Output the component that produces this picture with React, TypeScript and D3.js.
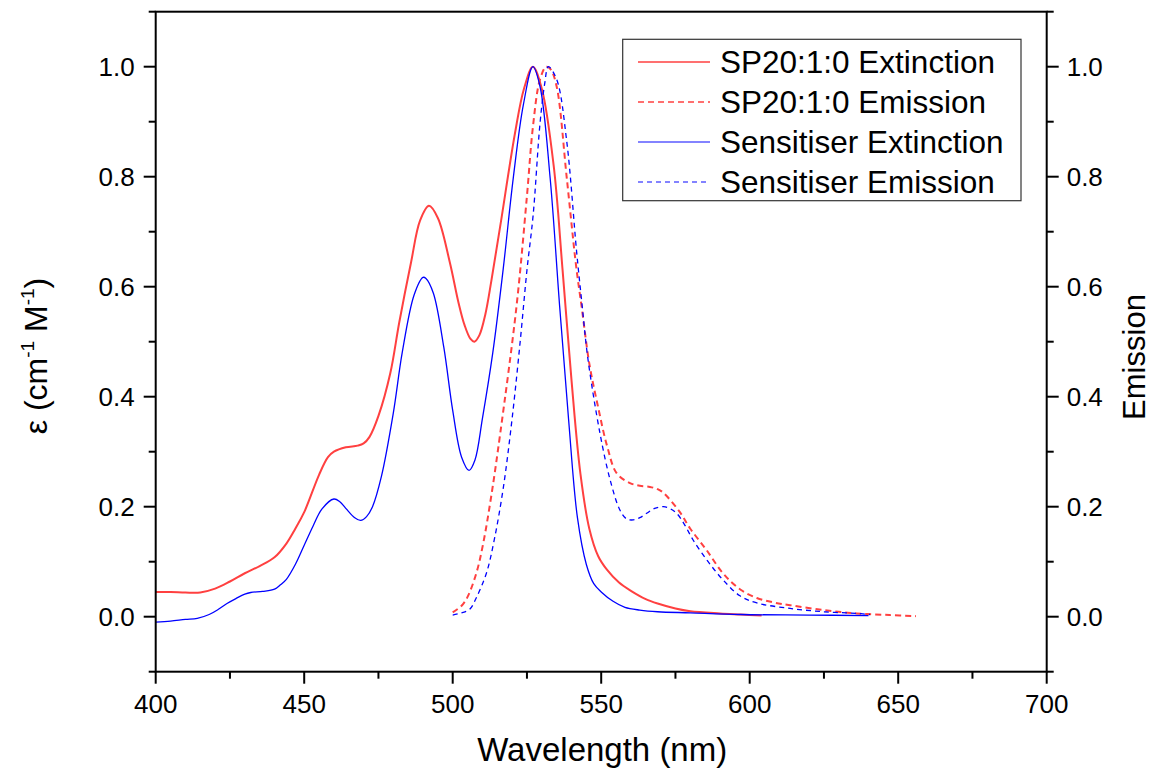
import React from "react";
import * as d3 from "d3";

type Pt = [number, number];

const spExtinction: Pt[] = [[400,0.045],[405,0.045],[410,0.044],[415,0.044],[420,0.051],[425,0.064],[430,0.079],[435,0.092],[440,0.108],[444,0.133],[447,0.16],[450,0.19],[455,0.258],[458,0.29],[460,0.300],[464,0.308],[468,0.311],[470,0.315],[472,0.327],[475,0.365],[479,0.443],[482,0.535],[486,0.645],[489,0.72],[492,0.747],[495,0.725],[499,0.645],[502,0.57],[504,0.53],[506,0.505],[507.3,0.50],[509,0.512],[511,0.55],[513,0.61],[516,0.71],[521,0.88],[524,0.96],[527,1.0],[530,0.96],[534,0.82],[537,0.63],[540,0.43],[543,0.26],[546,0.16],[549,0.11],[552,0.085],[556,0.062],[560,0.047],[565,0.032],[569,0.024],[575,0.015],[580,0.01],[590,0.006],[597,0.004],[604,0.002]];

const spEmission: Pt[] = [[500,0.008],[503,0.02],[505,0.036],[508,0.08],[510.3,0.134],[513,0.22],[516,0.333],[521.5,0.565],[525,0.765],[527,0.89],[529.4,0.977],[531.5,1.0],[533,0.995],[535,0.964],[538.4,0.798],[541.5,0.64],[543.5,0.56],[546,0.46],[549,0.38],[552,0.31],[555.2,0.261],[559.7,0.243],[563,0.238],[566.4,0.236],[569,0.232],[571,0.225],[576.5,0.19],[580,0.16],[585.5,0.121],[591,0.079],[596.7,0.05],[602.4,0.034],[608,0.026],[613.6,0.021],[625,0.012],[636,0.006],[647,0.003],[656,0.001]];

const sensExtinction: Pt[] = [[400,-0.01],[405,-0.008],[410,-0.005],[414,-0.003],[418,0.004],[421,0.013],[424,0.024],[427,0.033],[430,0.041],[432,0.044],[436,0.046],[440,0.05],[442,0.058],[444,0.068],[447,0.095],[450,0.13],[453,0.165],[456,0.196],[460,0.214],[462,0.209],[464,0.197],[467,0.18],[469,0.175],[471,0.182],[473,0.2],[476,0.255],[480,0.37],[483,0.48],[487,0.585],[490,0.617],[491,0.615],[493.5,0.588],[497,0.49],[500,0.375],[503,0.29],[505.5,0.266],[507.5,0.285],[510,0.36],[513.5,0.48],[517,0.632],[520.4,0.798],[523.8,0.931],[527,1.0],[529.4,0.964],[532.8,0.798],[536,0.565],[539,0.36],[542,0.18],[545,0.095],[547.5,0.06],[550,0.045],[554,0.028],[558,0.017],[563,0.012],[569,0.009],[580,0.007],[597,0.004],[620,0.003],[640,0.002]];

const sensEmission: Pt[] = [[500,0.003],[503,0.007],[505.8,0.014],[508,0.035],[511.4,0.08],[514,0.14],[517,0.233],[520,0.36],[522.7,0.499],[525,0.63],[527.1,0.731],[529.4,0.897],[531,0.97],[532.2,1.0],[535,0.977],[538.4,0.864],[541.7,0.665],[543.5,0.57],[545.5,0.47],[549.6,0.333],[553,0.249],[556.3,0.194],[558.5,0.178],[560.8,0.176],[563,0.18],[565.3,0.188],[568,0.197],[570.9,0.200],[573,0.197],[575.4,0.188],[578,0.168],[581,0.139],[586,0.1],[591,0.067],[596.7,0.038],[602.4,0.025],[613.6,0.015],[625,0.009],[636,0.006],[640.5,0.004]];

const xMajorTicks = [400, 450, 500, 550, 600, 650, 700];
const xMinorTicks = [425, 475, 525, 575, 625, 675];
const yMajorTicks = [0, 0.2, 0.4, 0.6, 0.8, 1.0];
const yMinorTicks = [-0.1, 0.1, 0.3, 0.5, 0.7, 0.9, 1.1];

const legendLabels = ["SP20:1:0 Extinction", "SP20:1:0 Emission", "Sensitiser Extinction", "Sensitiser Emission"];

const RED = "#ff4040";
const BLUE = "#0000ff";

const series = [
  { data: spExtinction, color: RED, width: 2, dash: "" },
  { data: spEmission, color: RED, width: 2, dash: "6,4" },
  { data: sensExtinction, color: BLUE, width: 1.3, dash: "" },
  { data: sensEmission, color: BLUE, width: 1.3, dash: "5,4" },
];

export default function App() {
  const W = 1153, H = 774;
  const L = 155.7, R = 1046.7, T = 11.7, B = 671.7;
  const x = d3.scaleLinear().domain([400, 700]).range([L, R]);
  const y = d3.scaleLinear().domain([-0.1, 1.1]).range([B, T]);
  const line = d3.line<Pt>().x(d => x(d[0])).y(d => y(d[1])).curve(d3.curveCatmullRom.alpha(0.5));
  const font = "Arial, 'Liberation Sans', sans-serif";
  const MAJ = 12, MIN = 7;

  return (
    <svg width={W} height={H} style={{ position: "absolute", left: 0, top: 0, background: "#fff" }} fontFamily={font}>
      <rect x={0} y={0} width={W} height={H} fill="#fff" />
      <defs>
        <clipPath id="plotclip"><rect x={L} y={T} width={R - L} height={B - T} /></clipPath>
      </defs>
      <g clipPath="url(#plotclip)">
        {series.map((s, i) => (
          <path key={i} d={line(s.data) || ""} fill="none" stroke={s.color} strokeWidth={s.width} strokeDasharray={s.dash || undefined} />
        ))}
      </g>
      <rect x={L} y={T} width={R - L} height={B - T} fill="none" stroke="#000" strokeWidth={2} />
      {xMajorTicks.map(t => (
        <g key={"xm" + t}>
          <line x1={x(t)} x2={x(t)} y1={B} y2={B + MAJ} stroke="#000" strokeWidth={2} />
          <text x={x(t)} y={713} fontSize={26} textAnchor="middle">{t}</text>
        </g>
      ))}
      {xMinorTicks.map(t => (
        <line key={"xn" + t} x1={x(t)} x2={x(t)} y1={B} y2={B + MIN} stroke="#000" strokeWidth={2} />
      ))}
      {yMajorTicks.map(t => (
        <g key={"ym" + t}>
          <line x1={L - MAJ} x2={L} y1={y(t)} y2={y(t)} stroke="#000" strokeWidth={2} />
          <text x={L - MAJ - 9} y={y(t)} dy="0.36em" fontSize={26} textAnchor="end">{t.toFixed(1)}</text>
          <line x1={R} x2={R + MAJ} y1={y(t)} y2={y(t)} stroke="#000" strokeWidth={2} />
          <text x={R + MAJ + 8} y={y(t)} dy="0.36em" fontSize={26} textAnchor="start">{t.toFixed(1)}</text>
        </g>
      ))}
      {yMinorTicks.map(t => (
        <g key={"yn" + t}>
          <line x1={L - MIN} x2={L} y1={y(t)} y2={y(t)} stroke="#000" strokeWidth={2} />
          <line x1={R} x2={R + MIN} y1={y(t)} y2={y(t)} stroke="#000" strokeWidth={2} />
        </g>
      ))}
      <text x={(L + R) / 2 + 1} y={761} fontSize={33} textAnchor="middle">Wavelength (nm)</text>
      <text transform={`translate(47, 356) rotate(-90)`} fontSize={32} textAnchor="middle">
        ε (cm<tspan fontSize={19} dy={-13}>-1</tspan><tspan dy={13}> M</tspan><tspan fontSize={19} dy={-13}>-1</tspan><tspan dy={13}>)</tspan>
      </text>
      <text transform={`translate(1145, 357) rotate(-90)`} fontSize={31} textAnchor="middle">Emission</text>
      <rect x={622.7} y={39.3} width={398.3} height={161.4} fill="#fff" stroke="#333" strokeWidth={1.2} />
      {legendLabels.map((lab, i) => {
        const s = series[i];
        const ry = 62 + i * 40;
        return (
          <g key={lab}>
            <line x1={638} x2={710} y1={ry} y2={ry} stroke={s.color} strokeWidth={s.width * 0.75} strokeDasharray={s.dash || undefined} />
            <text x={720} y={ry} dy="0.36em" fontSize={31.5}>{lab}</text>
          </g>
        );
      })}
    </svg>
  );
}
